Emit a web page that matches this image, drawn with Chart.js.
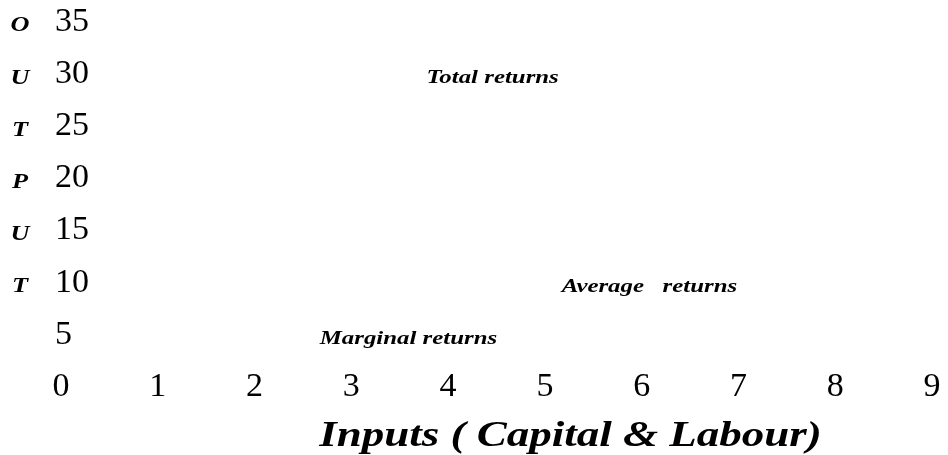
<!DOCTYPE html>
<html>
<head>
<meta charset="utf-8">
<script src="https://cdn.jsdelivr.net/npm/chart.js@4"></script>
<style>
  html, body { margin: 0; padding: 0; background: #fff; }
  #wrap { width: 948px; height: 455px; position: relative; }
</style>
</head>
<body>
<div id="wrap"><canvas id="returnsChart"></canvas></div>
<script>
// axis ticks
const xTicks = [0, 1, 2, 3, 4, 5, 6, 7, 8, 9];
const yTicks = [0, 5, 10, 15, 20, 25, 30, 35];

// stacked letters of the y axis title, one per tick row
const axisLetters = ['O', 'U', 'T', 'P', 'U', 'T'];
const letterRows = [35, 30, 25, 20, 15, 10];

// curve labels and where they sit (data units)
const curveNames = ['Total returns', 'Average   returns', 'Marginal returns'];
const nameX = [4.46, 6.08, 3.59];
const nameY = [29.6, 9.6, 4.6];

const xTitle = 'Inputs ( Capital & Labour)';

const serif = '"Liberation Serif", "Times New Roman", serif';

// draw text stretched sideways like the original picture
function wideText(ctx, text, x, y, stretch) {
    ctx.save();
    ctx.translate(x, y);
    ctx.scale(stretch, 1);
    ctx.fillText(text, 0, 0);
    ctx.restore();
}

const textPlugin = {
    id: 'chartText',
    afterDraw(chart) {
        const ctx = chart.ctx;
        const x = chart.scales.x;
        const y = chart.scales.y;
        ctx.save();
        ctx.fillStyle = '#000';
        ctx.textBaseline = 'middle';
        ctx.textAlign = 'center';

        // y title as upright letters
        ctx.font = 'italic bold 21px ' + serif;
        axisLetters.forEach((ch, i) => {
            wideText(ctx, ch, 20, y.getPixelForValue(letterRows[i]) + 4, 1.25);
        });

        // curve labels
        ctx.font = 'italic bold 18px ' + serif;
        curveNames.forEach((name, i) => {
            wideText(ctx, name, x.getPixelForValue(nameX[i]), y.getPixelForValue(nameY[i]), 1.38);
        });

        // x title
        ctx.font = 'italic bold 36px ' + serif;
        wideText(ctx, xTitle, (chart.chartArea.left + chart.chartArea.right) / 2 + 74, 437, 1.25);
        ctx.restore();
    }
};

function drawChart() {
    const ctx = document.getElementById('returnsChart').getContext('2d');

    new Chart(ctx, {
        type: 'scatter',
        data: {
            datasets: [{
                label: 'Curve labels',
                data: curveNames.map((n, i) => ({ x: nameX[i], y: nameY[i] })),
                pointRadius: 0,
                pointHoverRadius: 0
            }]
        },
        options: {
            responsive: true,
            maintainAspectRatio: false,
            animation: false,
            events: [],
            layout: {
                padding: { left: 61, right: 16, top: 22, bottom: 68 }
            },
            plugins: {
                legend: { display: false },
                tooltip: { enabled: false }
            },
            scales: {
                x: {
                    type: 'linear',
                    min: xTicks[0],
                    max: xTicks[xTicks.length - 1],
                    afterBuildTicks: axis => { axis.ticks = xTicks.map(v => ({ value: v })); },
                    grid: { display: false, drawTicks: false },
                    border: { display: false },
                    ticks: {
                        color: '#000',
                        mirror: true,
                        padding: -20,
                        maxRotation: 0,
                        autoSkip: false,
                        font: { family: serif, size: 34 }
                    }
                },
                y: {
                    min: yTicks[0],
                    max: yTicks[yTicks.length - 1],
                    afterBuildTicks: axis => { axis.ticks = yTicks.map(v => ({ value: v })); },
                    grid: { display: false, drawTicks: false },
                    border: { display: false },
                    ticks: {
                        color: '#000',
                        mirror: true,
                        padding: -2,
                        autoSkip: false,
                        font: { family: serif, size: 34 },
                        callback: v => (v === 0 ? '' : v)
                    }
                }
            }
        },
        plugins: [textPlugin]
    });
}

document.addEventListener('DOMContentLoaded', () => {
    drawChart();
});
</script>
</body>
</html>
